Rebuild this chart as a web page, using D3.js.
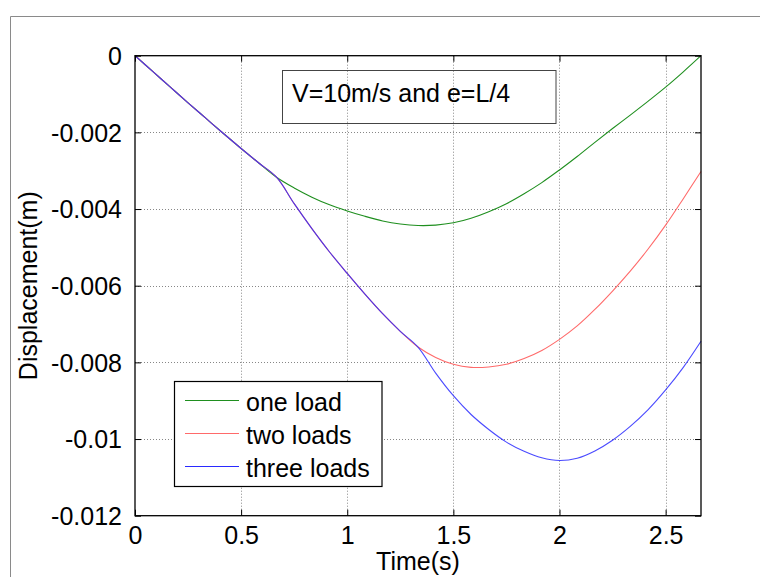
<!DOCTYPE html>
<html>
<head>
<meta charset="utf-8">
<script src="https://cdn.jsdelivr.net/npm/d3@7"></script>
<style>
  html, body { margin: 0; padding: 0; background: #fff; }
  svg { display: block; }
  text { font-family: "Liberation Sans", Arial, "DejaVu Sans", sans-serif; fill: #000; }
</style>
</head>
<body>
<svg id="chart" width="760" height="577"></svg>
<script>
// ---- data, time step 1/12 s ----
const timeSteps = 32;              // number of intervals, t = i/12 s
const timeMax = 2.6667;
const oneLoad = [0, -0.00041, -0.00082, -0.00123, -0.00163, -0.00203, -0.00242, -0.00280, -0.00317,
  -0.00345, -0.00369, -0.00389, -0.00405, -0.00419, -0.00431, -0.00439, -0.00443, -0.00442,
  -0.00436, -0.00424, -0.00407, -0.00386, -0.00360, -0.00331, -0.00298, -0.00263, -0.00226,
  -0.00190, -0.00155, -0.00119, -0.00082, -0.00042, 0];
const twoLoads = [0, -0.00041, -0.00082, -0.00123, -0.00163, -0.00203, -0.00242, -0.00280, -0.00317,
  -0.00386, -0.00451, -0.00512, -0.00568, -0.00622, -0.00673, -0.00719, -0.00760, -0.00787,
  -0.00805, -0.00813, -0.00812, -0.00805, -0.00790, -0.00769, -0.00740, -0.00705, -0.00662,
  -0.00614, -0.00562, -0.00505, -0.00442, -0.00373, -0.00302];
const threeLoads = [0, -0.00041, -0.00082, -0.00123, -0.00163, -0.00203, -0.00242, -0.00280, -0.00317,
  -0.00386, -0.00451, -0.00512, -0.00568, -0.00622, -0.00673, -0.00719, -0.00760, -0.00828,
  -0.00887, -0.00936, -0.00975, -0.01008, -0.01032, -0.01049, -0.01056, -0.01050, -0.01031,
  -0.01003, -0.00967, -0.00924, -0.00872, -0.00813, -0.00745];
const seriesNames = ["one load", "two loads", "three loads"];
const seriesColors = ["#1f8f1f", "#ff6a6a", "#2a2aff"];
const xTicks = [0, 0.5, 1, 1.5, 2, 2.5];
const xTickLabels = ["0", "0.5", "1", "1.5", "2", "2.5"];
const yTicks = [0, -0.002, -0.004, -0.006, -0.008, -0.01, -0.012];
const yTickLabels = ["0", "-0.002", "-0.004", "-0.006", "-0.008", "-0.01", "-0.012"];
const titleText = "V=10m/s and e=L/4";
const xLabel = "Time(s)";
const yLabel = "Displacement(m)";

// ---- layout ----
const L = 135, R = 701, T = 55.7, B = 515.7;
const svg = d3.select("#chart");
const x = d3.scaleLinear().domain([0, timeMax]).range([L, R]);
const y = d3.scaleLinear().domain([-0.012, 0]).range([B, T]);
const times = d3.range(timeSteps + 1).map(i => Math.min(i / 12, timeMax));

// figure border
svg.append("path").attr("d", `M10.5,577 L10.5,16.5 L760,16.5`)
  .attr("fill", "none").attr("stroke", "#8a8a8a").attr("stroke-width", 1);

// grid
const grid = svg.append("g").attr("stroke", "#6a6a6a").attr("stroke-width", 1)
  .attr("stroke-dasharray", "1,2").attr("opacity", 0.8);
xTicks.filter(v => v > 0).forEach(v => {
  grid.append("line").attr("x1", Math.round(x(v)) + 0.5).attr("x2", Math.round(x(v)) + 0.5)
    .attr("y1", T).attr("y2", B);
});
yTicks.filter(v => v < 0 && v > -0.012).forEach(v => {
  grid.append("line").attr("y1", Math.round(y(v)) + 0.5).attr("y2", Math.round(y(v)) + 0.5)
    .attr("x1", L).attr("x2", R);
});

// series
const line = d3.line().x((d, i) => x(times[i])).y(d => y(d)).curve(d3.curveCatmullRom.alpha(0.5));
[oneLoad, twoLoads, threeLoads].forEach((s, k) => {
  svg.append("path").datum(s).attr("d", line).attr("fill", "none")
    .attr("stroke", seriesColors[k]).attr("stroke-width", 1.1)
    .attr("opacity", k === 2 ? 0.85 : 1);
});

// axes (MATLAB style: ticks inside, on all sides)
const tickLen = 6;
const axG = svg.append("g");
const xAxisB = d3.axisBottom(x).tickValues(xTicks).tickSize(-tickLen).tickFormat((d, i) => xTickLabels[i]).tickPadding(12);
const xAxisT = d3.axisTop(x).tickValues(xTicks).tickSize(-tickLen).tickFormat("");
const yAxisL = d3.axisLeft(y).tickValues(yTicks).tickSize(-tickLen).tickFormat((d, i) => yTickLabels[i]).tickPadding(13);
const yAxisR = d3.axisRight(y).tickValues(yTicks).tickSize(-tickLen).tickFormat("");
function styleAxis(g) {
  g.select(".domain").remove();
  g.selectAll(".tick line").attr("stroke", "#000");
  g.selectAll("text").style("font-family", '"Liberation Sans", Arial, sans-serif').attr("font-size", 25).attr("fill", "#000");
}
axG.append("g").attr("transform", `translate(0,${B})`).call(xAxisB).call(styleAxis)
  .selectAll("text").attr("dy", null).attr("y", 28);
axG.append("g").attr("transform", `translate(0,${T})`).call(xAxisT).call(styleAxis);
axG.append("g").attr("transform", `translate(${L},0)`).call(yAxisL).call(styleAxis)
  .selectAll("text").attr("dy", "0.35em");
axG.append("g").attr("transform", `translate(${R},0)`).call(yAxisR).call(styleAxis);
svg.append("rect").attr("x", L).attr("y", T).attr("width", R - L).attr("height", B - T)
  .attr("fill", "none").attr("stroke", "#000").attr("stroke-width", 1.3);

// axis labels
svg.append("text").attr("x", (L + R) / 2).attr("y", 570).attr("text-anchor", "middle")
  .attr("font-size", 25).text(xLabel);
svg.append("text").attr("transform", `translate(37,${(T + B) / 2}) rotate(-90)`)
  .attr("text-anchor", "middle").attr("font-size", 25).text(yLabel);

// title annotation box
svg.append("rect").attr("x", 282.5).attr("y", 70.5).attr("width", 273.5).attr("height", 53)
  .attr("fill", "none").attr("stroke", "#444").attr("stroke-width", 1);
svg.append("text").attr("x", 292).attr("y", 101.5).attr("font-size", 25).text(titleText);

// legend
const lg = svg.append("g");
lg.append("rect").attr("x", 174.5).attr("y", 381.5).attr("width", 207.5).attr("height", 105)
  .attr("fill", "#fff").attr("stroke", "#000").attr("stroke-width", 1.2);
const rowY = [400, 433, 466];
seriesNames.forEach((n, k) => {
  lg.append("line").attr("x1", 185).attr("x2", 239).attr("y1", rowY[k] + 0.5).attr("y2", rowY[k] + 0.5)
    .attr("stroke", seriesColors[k]).attr("stroke-width", 1);
  lg.append("text").attr("x", 246).attr("y", rowY[k] + 11).attr("font-size", 25).text(n);
});
</script>
</body>
</html>
